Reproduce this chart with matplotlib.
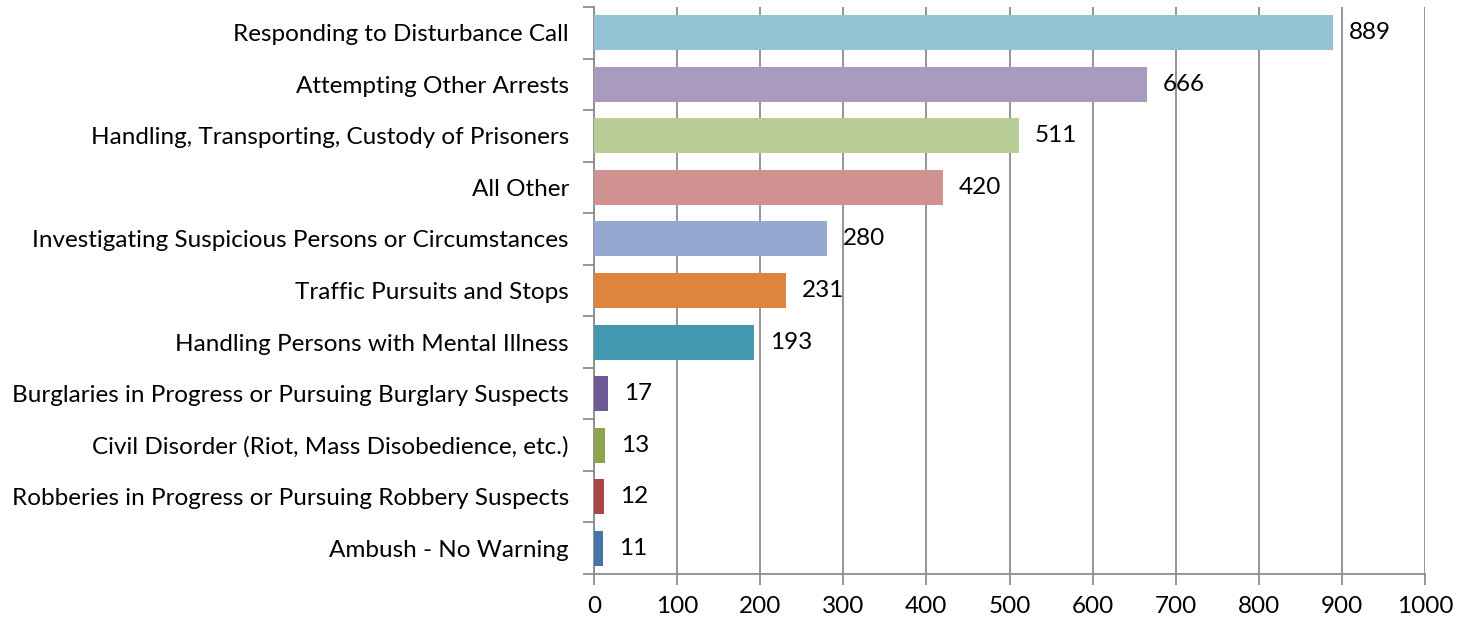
import matplotlib
matplotlib.use("Agg")
import matplotlib.pyplot as plt
from matplotlib.ticker import FixedLocator, NullFormatter

# categories listed bottom to top
categories = [
    "Ambush - No Warning",
    "Robberies in Progress or Pursuing Robbery Suspects",
    "Civil Disorder (Riot, Mass Disobedience, etc.)",
    "Burglaries in Progress or Pursuing Burglary Suspects",
    "Handling Persons with Mental Illness",
    "Traffic Pursuits and Stops",
    "Investigating Suspicious Persons or Circumstances",
    "All Other",
    "Handling, Transporting, Custody of Prisoners",
    "Attempting Other Arrests",
    "Responding to Disturbance Call",
]
counts = [11, 12, 13, 17, 193, 231, 280, 420, 511, 666, 889]
colors = [
    "#4574A8", "#A94643", "#8CA54E", "#705A95", "#4399B0", "#DD843D",
    "#95A9D0", "#D09290", "#B9CD96", "#A99BBD", "#93C3D4",
]
x_ticks = list(range(0, 1001, 100))

plt.rcParams["font.family"] = ["Lato", "DejaVu Sans"]
GRID = "#8c8c8c"
FS = 17.5

fig = plt.figure(figsize=(14.7, 6.22), dpi=100)
ax = fig.add_axes([594 / 1470, 48 / 622, 831 / 1470, 567 / 622])

ypos = list(range(len(categories)))
ax.barh(ypos, counts, height=0.68, color=colors, zorder=3)
for y, v in zip(ypos, counts):
    ax.text(v + 19, y, str(v), va="center", ha="left", fontsize=FS, zorder=4)

ax.set_xlim(0, 1000)
ax.set_ylim(-0.5, len(categories) - 0.5)
ax.set_xticks(x_ticks)
ax.set_xticklabels([str(t) for t in x_ticks], fontsize=FS)
ax.set_yticks(ypos)
ax.set_yticklabels(categories, fontsize=FS)
ax.yaxis.set_minor_locator(FixedLocator([i - 0.5 for i in range(len(categories) + 1)]))
ax.yaxis.set_minor_formatter(NullFormatter())
ax.tick_params(axis="y", which="major", length=0, pad=18)
ax.tick_params(axis="y", which="minor", length=8, width=1.3, color=GRID, direction="out")
ax.tick_params(axis="x", length=8, width=1.3, color=GRID, direction="out", pad=8)

ax.grid(axis="x", color=GRID, linewidth=1.3, zorder=0)
for side in ("top", "right"):
    ax.spines[side].set_visible(False)
for side in ("left", "bottom"):
    ax.spines[side].set_color(GRID)
    ax.spines[side].set_linewidth(1.3)

fig.savefig("out.png", dpi=100)
